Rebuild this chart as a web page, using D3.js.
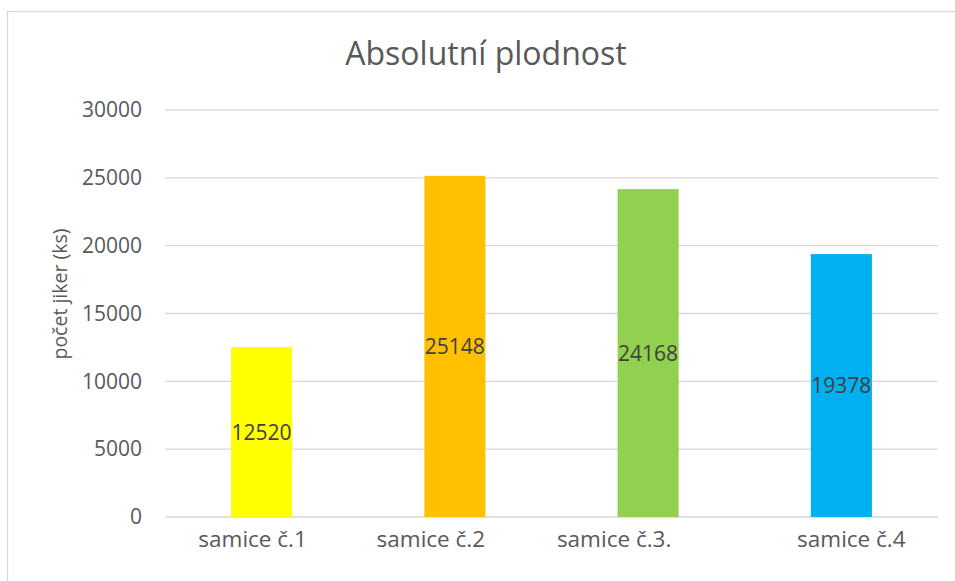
<!DOCTYPE html>
<html>
<head>
<meta charset="utf-8">
<script src="https://cdn.jsdelivr.net/npm/d3@7"></script>
<style>
  body { margin: 0; background: #fff; }
  svg { display: block; font-family: "Open Sans", sans-serif; }
</style>
</head>
<body>
<div id="chart"></div>
<script>
// data
const categories = ["samice č.1", "samice č.2", "samice č.3.", "samice č.4"];
const values = [12520, 25148, 24168, 19378];
const barColors = ["#FFFF00", "#FFC000", "#92D050", "#00B0F0"];
const yTicks = [0, 5000, 10000, 15000, 20000, 25000, 30000];

// layout
const W = 955, H = 581;
const margin = { top: 110, right: 17, bottom: 64, left: 165 };
// category labels in the original are nudged sideways by hand
const labelNudge = [-9, -24, -34, 10];

const svg = d3.select("#chart").append("svg")
  .attr("width", W)
  .attr("height", H);

// chart frame
svg.append("rect")
  .attr("x", 7.5).attr("y", 11.5)
  .attr("width", W + 20).attr("height", H + 20)
  .attr("fill", "none")
  .attr("stroke", "#d9d9d9")
  .attr("stroke-width", 1.3);

const x = d3.scaleBand()
  .domain(categories)
  .range([margin.left, W - margin.right])
  .paddingInner(0.684)
  .paddingOuter(0.342);

const y = d3.scaleLinear()
  .domain([0, 30000])
  .range([H - margin.bottom, margin.top]);

// gridlines
svg.append("g")
  .selectAll("line")
  .data(yTicks)
  .join("line")
  .attr("x1", margin.left)
  .attr("x2", W - margin.right)
  .attr("y1", d => y(d))
  .attr("y2", d => y(d))
  .attr("stroke", "#d9d9d9")
  .attr("stroke-width", 1.3);

// y axis labels
const yAxis = d3.axisLeft(y)
  .tickValues(yTicks)
  .tickFormat(d3.format("d"))
  .tickSize(0)
  .tickPadding(23);
svg.append("g")
  .attr("transform", `translate(${margin.left},0)`)
  .call(yAxis)
  .call(g => g.select(".domain").remove())
  .selectAll("text")
  .attr("fill", "#595959")
  .style("font-size", "21px")
  .style("font-family", "'Open Sans', sans-serif");

// bars
svg.append("g")
  .selectAll("rect")
  .data(values)
  .join("rect")
  .attr("x", (d, i) => x(categories[i]))
  .attr("y", d => y(d))
  .attr("width", x.bandwidth())
  .attr("height", d => y(0) - y(d))
  .attr("fill", (d, i) => barColors[i]);

// data labels, centred in the bars
svg.append("g")
  .selectAll("text")
  .data(values)
  .join("text")
  .attr("x", (d, i) => x(categories[i]) + x.bandwidth() / 2)
  .attr("y", d => (y(d) + y(0)) / 2)
  .attr("dy", "0.36em")
  .attr("text-anchor", "middle")
  .attr("fill", "#404040")
  .style("font-size", "21px")
  .text(d => d);

// category labels
svg.append("g")
  .selectAll("text")
  .data(categories)
  .join("text")
  .attr("x", (d, i) => x(d) + x.bandwidth() / 2 + labelNudge[i])
  .attr("y", y(0) + 30)
  .attr("text-anchor", "middle")
  .attr("fill", "#595959")
  .style("font-size", "22.5px")
  .text(d => d);

// title
svg.append("text")
  .attr("x", 486)
  .attr("y", 65)
  .attr("text-anchor", "middle")
  .attr("fill", "#595959")
  .style("font-size", "32px")
  .text("Absolutní plodnost");

// y axis title
svg.append("text")
  .attr("transform", "translate(67,294) rotate(-90)")
  .attr("text-anchor", "middle")
  .attr("fill", "#595959")
  .style("font-size", "19.5px")
  .text("počet jiker (ks)");
</script>
</body>
</html>
